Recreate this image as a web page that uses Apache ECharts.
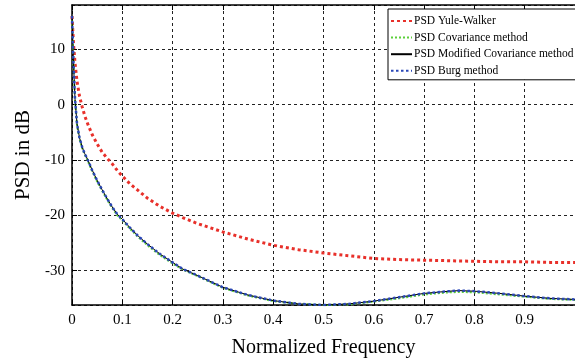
<!DOCTYPE html>
<html>
<head>
<meta charset="utf-8">
<script src="https://cdn.jsdelivr.net/npm/echarts@6/dist/echarts.min.js"></script>
<style>
html,body{margin:0;padding:0;background:#fff;}
#c{width:575px;height:363px;}
</style>
</head>
<body>
<div id="c"></div>
<script>
var freq = [0, 0.003, 0.006, 0.01, 0.015, 0.02, 0.025, 0.03, 0.04, 0.05, 0.06, 0.07, 0.08, 0.09, 0.1, 0.115, 0.13, 0.15, 0.175, 0.2, 0.22, 0.25, 0.3, 0.35, 0.4, 0.45, 0.5, 0.55, 0.6, 0.65, 0.7, 0.75, 0.77, 0.8, 0.85, 0.9, 0.95, 1.0];
var yuleWalker = [16, 11, 7.5, 4.2, 1.5, -0.3, -1.9, -3.2, -5.4, -7.1, -8.6, -9.7, -10.7, -11.9, -12.9, -14.3, -15.4, -16.9, -18.4, -19.6, -20.4, -21.5, -23, -24.3, -25.4, -26.2, -26.8, -27.3, -27.8, -28, -28.1, -28.2, -28.25, -28.3, -28.4, -28.4, -28.5, -28.5];
var covariance = [16, 7.3, 0.8, -3.7, -6.2, -7.8, -9, -9.9, -12, -13.9, -15.6, -17.2, -18.7, -20, -20.9, -22.4, -23.8, -25.4, -27.2, -28.7, -29.8, -31, -33.1, -34.5, -35.5, -36, -36.2, -36.1, -35.6, -35, -34.3, -33.9, -33.85, -33.9, -34.3, -34.7, -35.1, -35.3];
var modCovariance = [16, 7.5, 1, -3.5, -6, -7.6, -8.8, -9.7, -11.8, -13.7, -15.4, -17, -18.5, -19.8, -20.7, -22.2, -23.6, -25.2, -27, -28.5, -29.7, -30.9, -33, -34.4, -35.4, -36, -36.2, -36, -35.5, -34.8, -34.1, -33.7, -33.6, -33.7, -34.1, -34.6, -35, -35.2];
var burg = [16, 7.5, 1, -3.5, -6, -7.6, -8.8, -9.7, -11.8, -13.7, -15.4, -17, -18.5, -19.8, -20.7, -22.2, -23.6, -25.2, -27, -28.5, -29.7, -30.9, -33, -34.4, -35.4, -36, -36.2, -36, -35.5, -34.8, -34.1, -33.7, -33.6, -33.7, -34.1, -34.6, -35, -35.2];
var seriesNames = ['PSD Yule-Walker', 'PSD Covariance method', 'PSD Modified Covariance method', 'PSD Burg method'];

function pairs(v){ return freq.map(function(f,i){ return [f, v[i]]; }); }
var FONT = 'Liberation Serif';
var chart = echarts.init(document.getElementById('c'));
var gridLine = {show:true, lineStyle:{color:'#222', width:1, type:[3,3]}};
chart.setOption({
  animation:false,
  backgroundColor:'#fff',
  grid:{left:72, top:5, width:505, height:301, containLabel:false},
  legend:{
    orient:'vertical', left:388, top:9, width:186, height:62,
    padding:[6,4,3,2], itemGap:4.6, itemWidth:21, itemHeight:12,
    backgroundColor:'#fff', borderColor:'#000', borderWidth:1, borderRadius:0,
    itemStyle:{opacity:0},
    textStyle:{fontFamily:FONT, fontSize:11.5, color:'#000', padding:[0,0,0,-3]},
    data:seriesNames
  },
  xAxis:[{
    type:'value', min:0, max:1, interval:0.1, position:'bottom',
    name:'Normalized Frequency', nameLocation:'middle', nameGap:33,
    nameTextStyle:{fontFamily:FONT, fontSize:20, color:'#000'},
    axisLine:{show:true, onZero:false, lineStyle:{color:'#000', width:1.5}},
    axisTick:{show:true, inside:true, length:5, lineStyle:{color:'#000'}},
    axisLabel:{fontFamily:FONT, fontSize:15, color:'#000', margin:8, showMaxLabel:false},
    splitLine:gridLine
  },{
    type:'value', min:0, max:1, interval:0.1, position:'top',
    axisLine:{show:true, onZero:false, lineStyle:{color:'#000', width:1.5}},
    axisTick:{show:true, inside:true, length:5, lineStyle:{color:'#000'}},
    axisLabel:{show:false}, splitLine:{show:false}
  }],
  yAxis:[{
    type:'value', min:-36.2, max:18,
    name:'PSD in dB', nameLocation:'middle', nameGap:34,
    nameTextStyle:{fontFamily:FONT, fontSize:21, color:'#000'},
    axisLine:{show:true, onZero:false, lineStyle:{color:'#000', width:1.5}},
    axisTick:{show:true, inside:true, length:5, lineStyle:{color:'#000'}},
    axisLabel:{fontFamily:FONT, fontSize:15, color:'#000', margin:7, showMinLabel:false, showMaxLabel:false},
    splitLine:gridLine
  }],
  series:[
    {name:seriesNames[0], type:'line', data:pairs(yuleWalker), showSymbol:false, symbol:'none',
      lineStyle:{color:'#e8302a', width:3, type:[3,3]}, itemStyle:{color:'#e8302a'}, z:2},
    {name:seriesNames[1], type:'line', data:pairs(covariance), showSymbol:false, symbol:'none',
      lineStyle:{color:'#5ccf3a', width:2, type:[2,2]}, itemStyle:{color:'#5ccf3a'}, z:3},
    {name:seriesNames[2], type:'line', data:pairs(modCovariance), showSymbol:false, symbol:'none',
      lineStyle:{color:'#000', width:1}, itemStyle:{color:'#000'}, z:4},
    {name:seriesNames[3], type:'line', data:pairs(burg), showSymbol:false, symbol:'none',
      lineStyle:{color:'#2a47b8', width:2.5, type:[2.5,2.5]}, itemStyle:{color:'#2a47b8'}, z:5}
  ]
});
</script>
</body>
</html>
